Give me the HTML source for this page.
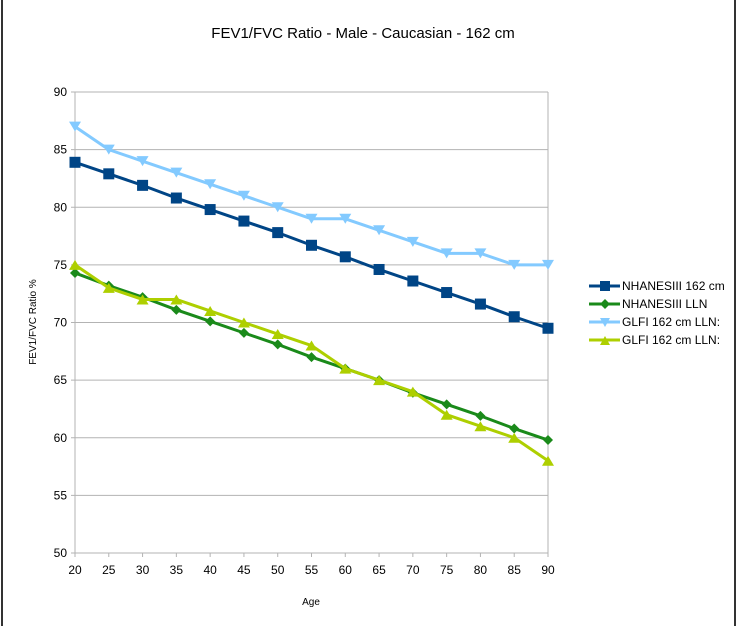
<!DOCTYPE html>
<html><head><meta charset="utf-8"><style>
html,body{margin:0;padding:0;background:#fff;}
svg text{font-family:"Liberation Sans",Arial,sans-serif;}
</style></head><body>
<svg id="s" width="738" height="626" xmlns="http://www.w3.org/2000/svg">
<rect x="0" y="0" width="738" height="626" fill="#fff"/>
<rect x="2" y="-2" width="733" height="640" fill="none" stroke="#333" stroke-width="2"/>
<text x="363" y="38" font-size="15" text-anchor="middle" fill="#000">FEV1/FVC Ratio - Male - Caucasian - 162 cm</text>
<g id="grid"></g>
<text x="36" y="322" font-size="10" text-anchor="middle" transform="rotate(-90 36 322)">FEV1/FVC Ratio %</text>
<text x="311" y="605" font-size="10" text-anchor="middle">Age</text>
<g id="series"></g>
<g font-size="12">
<line x1="589" y1="286" x2="620" y2="286" stroke="#004586" stroke-width="3"/><rect x="600" y="281" width="10" height="10" fill="#004586"/>
<text x="622" y="290">NHANESIII 162 cm</text>
<line x1="589" y1="304" x2="620" y2="304" stroke="#1a8a1a" stroke-width="3"/><path d="M605 299 L610 304 L605 309 L600 304Z" fill="#1a8a1a"/>
<text x="622" y="308">NHANESIII LLN</text>
<line x1="589" y1="322" x2="620" y2="322" stroke="#83caff" stroke-width="3"/><path d="M600 318 L610 318 L605 327Z" fill="#83caff"/>
<text x="622" y="326">GLFI 162 cm LLN:</text>
<line x1="589" y1="340" x2="620" y2="340" stroke="#aecf00" stroke-width="3"/><path d="M600 345 L610 345 L605 336Z" fill="#aecf00"/>
<text x="622" y="344">GLFI 162 cm LLN:</text>
</g>
</svg>
<script>
var NS="http://www.w3.org/2000/svg";
function X(a){return 75+(a-20)*473/70;}
function Y(v){return 553-(v-50)*461/40;}
var g=document.getElementById('grid'),h='';
for(var v=50;v<=90;v+=5){h+='<line x1="71" x2="548" y1="'+Y(v)+'" y2="'+Y(v)+'" stroke="#b3b3b3"/>';
h+='<text x="67" y="'+(Y(v)+4)+'" font-size="12" text-anchor="end">'+v+'</text>';}
for(var a=20;a<=90;a+=5){h+='<line x1="'+X(a)+'" x2="'+X(a)+'" y1="'+(a==20||a==90?92:553)+'" y2="557" stroke="#b3b3b3"/>';
h+='<text x="'+X(a)+'" y="574" font-size="12" text-anchor="middle">'+a+'</text>';}
g.innerHTML=h;
var ages=[];for(a=20;a<=90;a+=5)ages.push(a);
var S=[
{c:'#83caff',m:'down',d:[87,85,84,83,82,81,80,79,79,78,77,76,76,75,75]},
{c:'#004586',m:'sq',d:[83.9,82.9,81.9,80.8,79.8,78.8,77.8,76.7,75.7,74.6,73.6,72.6,71.6,70.5,69.5]},
{c:'#1a8a1a',m:'dia',d:[74.3,73.2,72.2,71.1,70.1,69.1,68.1,67.0,66.0,65.0,63.9,62.9,61.9,60.8,59.8]},
{c:'#aecf00',m:'up',d:[75,73,72,72,71,70,69,68,66,65,64,62,61,60,58]}];
var o='';
S.forEach(function(s){var p=s.d.map(function(v,i){return X(ages[i])+','+Y(v);}).join(' ');
o+='<polyline points="'+p+'" fill="none" stroke="'+s.c+'" stroke-width="3" stroke-linejoin="round"/>';
s.d.forEach(function(v,i){var x=X(ages[i]),y=Y(v);
if(s.m=='sq')o+='<rect x="'+(x-5.5)+'" y="'+(y-5.5)+'" width="11" height="11" fill="'+s.c+'"/>';
if(s.m=='dia')o+='<path d="M'+x+' '+(y-5)+' L'+(x+5)+' '+y+' L'+x+' '+(y+5)+' L'+(x-5)+' '+y+'Z" fill="'+s.c+'"/>';
if(s.m=='down')o+='<path d="M'+(x-6)+' '+(y-5)+' L'+(x+6)+' '+(y-5)+' L'+x+' '+(y+5)+'Z" fill="'+s.c+'"/>';
if(s.m=='up')o+='<path d="M'+(x-6)+' '+(y+5)+' L'+(x+6)+' '+(y+5)+' L'+x+' '+(y-5)+'Z" fill="'+s.c+'"/>';});});
document.getElementById('series').innerHTML=o;
</script>
</body></html>
